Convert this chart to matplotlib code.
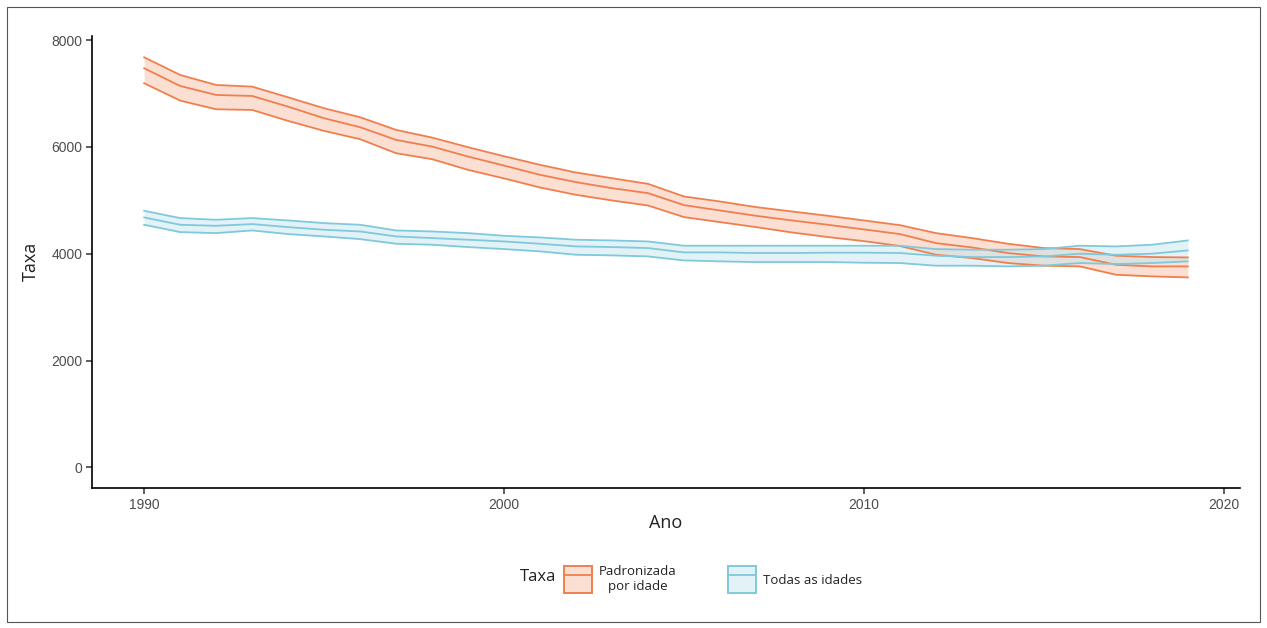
import matplotlib
matplotlib.use("Agg")
import matplotlib.pyplot as plt
from matplotlib.patches import Patch, Rectangle
from matplotlib.lines import Line2D
from matplotlib.legend_handler import HandlerTuple

years = list(range(1990, 2020))

pad_mid = [7471, 7140, 6972, 6953, 6753, 6536, 6368, 6131, 6006, 5819,
           5650, 5477, 5340, 5227, 5134, 4910, 4810, 4710, 4623, 4542,
           4455, 4368, 4199, 4118, 4013, 3950, 3938, 3794, 3763, 3763]
pad_hi = [7677, 7346, 7159, 7128, 6928, 6723, 6555, 6318, 6174, 5994,
          5825, 5664, 5520, 5414, 5308, 5072, 4978, 4873, 4791, 4710,
          4623, 4535, 4386, 4293, 4187, 4106, 4087, 3963, 3938, 3931]
pad_lo = [7191, 6866, 6704, 6692, 6486, 6299, 6144, 5882, 5770, 5570,
          5410, 5240, 5103, 4997, 4903, 4686, 4592, 4499, 4398, 4312,
          4236, 4145, 3981, 3919, 3826, 3776, 3763, 3607, 3576, 3557]

tod_mid = [4679, 4542, 4523, 4555, 4498, 4449, 4417, 4324, 4293, 4262,
           4230, 4187, 4137, 4125, 4106, 4025, 4025, 4013, 4013, 4020,
           4020, 4013, 3963, 3938, 3938, 3950, 4000, 3981, 4000, 4062]
tod_hi = [4804, 4667, 4636, 4667, 4623, 4573, 4542, 4436, 4417, 4386,
          4336, 4305, 4262, 4249, 4230, 4150, 4150, 4150, 4150, 4150,
          4150, 4150, 4087, 4075, 4075, 4087, 4150, 4137, 4168, 4249]
tod_lo = [4542, 4405, 4386, 4436, 4368, 4324, 4274, 4187, 4168, 4125,
          4087, 4044, 3981, 3969, 3950, 3875, 3857, 3844, 3844, 3844,
          3832, 3826, 3776, 3776, 3763, 3776, 3826, 3807, 3826, 3857]

series_labels = ["Padronizada\npor idade", "Todas as idades"]
line_colors = ["#F07F4F", "#7FC9DC"]
fill_colors = ["#F8B89C", "#BFE4EF"]
fill_alpha = 0.45

W, H = 1267, 628
fig = plt.figure(figsize=(W / 100, H / 100), dpi=100)
fig.patch.set_facecolor("white")
fig.add_artist(Rectangle((7 / W, 1 - 622 / H), 1253 / W, 615 / H,
                         transform=fig.transFigure, fill=False,
                         edgecolor="#555555", linewidth=0.8))

ax = fig.add_axes([92 / W, 1 - 488 / H, (1240 - 92) / W, (488 - 35.5) / H])

for mid, lo, hi, lc, fc in [(pad_mid, pad_lo, pad_hi, line_colors[0], fill_colors[0]),
                            (tod_mid, tod_lo, tod_hi, line_colors[1], fill_colors[1])]:
    ax.fill_between(years, lo, hi, color=fc, alpha=fill_alpha, linewidth=0)
    ax.plot(years, mid, color=lc, lw=1.3)
    ax.plot(years, lo, color=lc, lw=1.3)
    ax.plot(years, hi, color=lc, lw=1.3)

ax.set_xlim(1988.55, 2020.45)
ax.set_ylim(-385, 8085)
ax.set_xticks([1990, 2000, 2010, 2020])
ax.set_yticks([0, 2000, 4000, 6000, 8000])
for s in ["top", "right"]:
    ax.spines[s].set_visible(False)
for s in ["left", "bottom"]:
    ax.spines[s].set_linewidth(1.2)
    ax.spines[s].set_color("black")
ax.tick_params(axis="both", direction="out", length=4, width=1.1, color="#333333",
               labelsize=10, labelcolor="#4D4D4D", pad=3)
for lab in ax.get_xticklabels() + ax.get_yticklabels():
    lab.set_family("Liberation Sans")

ax.set_xlabel("Ano", fontsize=13, family="Open Sans", color="#222222", labelpad=2)
ax.set_ylabel("Taxa", fontsize=13, family="Open Sans", color="#222222", labelpad=8)

handles = []
for lc, fc in zip(line_colors, fill_colors):
    p = Patch(facecolor=(*matplotlib.colors.to_rgb(fc), fill_alpha), edgecolor=lc, linewidth=1.4)
    l = Line2D([0], [0], color=lc, lw=1.3)
    handles.append((p, l))

leg = fig.legend(handles, series_labels, loc="center left", bbox_to_anchor=(564 / W, 1 - 579 / H),
                 ncol=2, frameon=False, handler_map={tuple: HandlerTuple(ndivide=1, pad=0)},
                 handlelength=2.12, handleheight=2.77, columnspacing=3.85, handletextpad=0.55,
                 borderpad=0, borderaxespad=0,
                 prop={"family": "Open Sans", "size": 9.5})
for t in leg.get_texts():
    t.set_multialignment("center")
    t.set_color("#222222")
fig.text(538 / W, 1 - 577 / H, "Taxa", ha="center", va="center",
         fontsize=12, family="Open Sans", color="#222222")

fig.savefig("out.png", dpi=100)
